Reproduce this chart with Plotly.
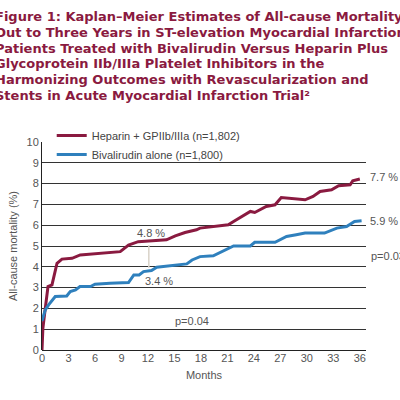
import plotly.graph_objects as go

# Heparin + GPIIb/IIIa (months, mortality %)
hep_months = [0, 0.1, 0.37, 0.68, 1.13, 1.7, 2.26, 3.4, 4.33, 6.6, 8.86, 9.8, 10.9, 14.1, 15.1, 16.2, 17.5,
              17.9, 21.1, 21.7, 23.6, 24.1, 25.4, 26.4, 27.1, 29.8, 30.7, 31.5, 32.8, 33.6, 34.9, 35.2, 36.0]
hep_vals = [0, 1.04, 2.0, 3.05, 3.13, 4.17, 4.37, 4.41, 4.57, 4.65, 4.73, 5.05, 5.21, 5.3, 5.49, 5.65, 5.78,
            5.86, 6.02, 6.18, 6.66, 6.61, 6.9, 6.98, 7.33, 7.22, 7.38, 7.62, 7.7, 7.9, 7.94, 8.13, 8.22]

# Bivalirudin alone
biv_months = [0, 0.37, 0.75, 1.5, 2.8, 3.2, 3.8, 4.3, 5.5, 6.0, 7.7, 9.8, 10.4, 11.0, 11.5, 12.4, 13.0, 14.5,
              15.3, 16.4, 17.0, 17.9, 19.4, 21.7, 23.6, 24.1, 26.4, 27.7, 28.8, 29.8, 32.0, 33.4, 34.5, 35.4, 36.2]
biv_vals = [1.4, 1.93, 2.17, 2.57, 2.6, 2.81, 2.89, 3.05, 3.05, 3.16, 3.21, 3.24, 3.61, 3.61, 3.77, 3.82, 3.98,
            4.04, 4.09, 4.14, 4.33, 4.49, 4.53, 5.0, 5.0, 5.18, 5.18, 5.46, 5.54, 5.62, 5.62, 5.86, 5.94, 6.18, 6.21]

series_names = ["Heparin + GPIIb/IIIa (n=1,802)", "Bivalirudin alone (n=1,800)"]
x_ticks = list(range(0, 37, 3))
y_ticks = list(range(0, 11))

title_lines = ["Figure 1: Kaplan–Meier Estimates of All-cause Mortality",
               "Out to Three Years in ST-elevation Myocardial Infarction",
               "Patients Treated with Bivalirudin Versus Heparin Plus",
               "Glycoprotein IIb/IIIa Platelet Inhibitors in the",
               "Harmonizing Outcomes with Revascularization and",
               "Stents in Acute Myocardial Infarction Trial²"]

RED = "#8a1a40"
BLUE = "#2f80bd"
GRAY = "#555555"
FONT = "Liberation Sans, Arial"

L, R, T, B = 42, 34, 142, 50
PW, PH = 400 - L - R, 400 - T - B


def px(x):
    return (x - L) / PW


def py(y):
    return (400 - B - y) / PH


fig = go.Figure()
fig.add_trace(go.Scatter(x=hep_months, y=hep_vals, mode="lines", name=series_names[0],
                         line=dict(color=RED, width=3)))
fig.add_trace(go.Scatter(x=biv_months, y=biv_vals, mode="lines", name=series_names[1],
                         line=dict(color=BLUE, width=3)))

for i, line in enumerate(title_lines):
    fig.add_annotation(text=line, xref="paper", yref="paper", x=px(-7), y=py(16.5 + 15.8 * i),
                       xanchor="left", yanchor="middle", align="left", showarrow=False,
                       font=dict(family="DejaVu Sans", size=13, color=RED, weight="bold"))

# vertical marker at 12 months
fig.add_shape(type="line", x0=12.1, x1=12.1, y0=3.95, y1=5.05, xref="x", yref="y",
              line=dict(color="#d9d2c8", width=1.5))

ann_font = dict(family=FONT, size=11, color=GRAY)
for txt, x, y, xa in [("7.7 %", 368, 177, "left"), ("5.9 %", 368, 221, "left"),
                      ("p=0.03", 369, 256, "left"), ("p=0.04", 173, 321, "left"),
                      ("4.8 %", 151, 233, "center"), ("3.4 %", 158.5, 281, "center")]:
    fig.add_annotation(text=txt, x=px(x), y=py(y), xref="paper", yref="paper", xanchor=xa,
                       yanchor="middle", showarrow=False, font=ann_font)

fig.update_layout(
    width=400, height=400,
    margin=dict(l=L, r=R, t=T, b=B, autoexpand=False),
    paper_bgcolor="white", plot_bgcolor="white",
    showlegend=True,
    legend=dict(x=0.03, y=py(121), xanchor="left", yanchor="top", bgcolor="rgba(0,0,0,0)",
                font=dict(family=FONT, size=11, color="#444444"),
                tracegroupgap=0, itemwidth=30),
    xaxis=dict(range=[0, 36.7], tickvals=x_ticks, showgrid=False, zeroline=False,
               showline=False, ticks="", automargin=False,
               tickfont=dict(family=FONT, size=11, color=GRAY),
               title=dict(text="Months", font=dict(family=FONT, size=11, color=GRAY), standoff=8)),
    yaxis=dict(range=[0, 10], tickvals=y_ticks, showgrid=True, gridcolor="#333333", gridwidth=1,
               zeroline=True, zerolinecolor="#222222", zerolinewidth=1, automargin=False,
               showline=True, linecolor="#222222", linewidth=1, ticks="",
               tickfont=dict(family=FONT, size=11, color=GRAY),
               title=dict(text="All-cause mortality (%)",
                          font=dict(family=FONT, size=11, color=GRAY), standoff=6)),
)

fig.write_html("out.html", config={"displayModeBar": False},
               post_script="document.body.style.margin='0';document.body.style.overflow='hidden';")
